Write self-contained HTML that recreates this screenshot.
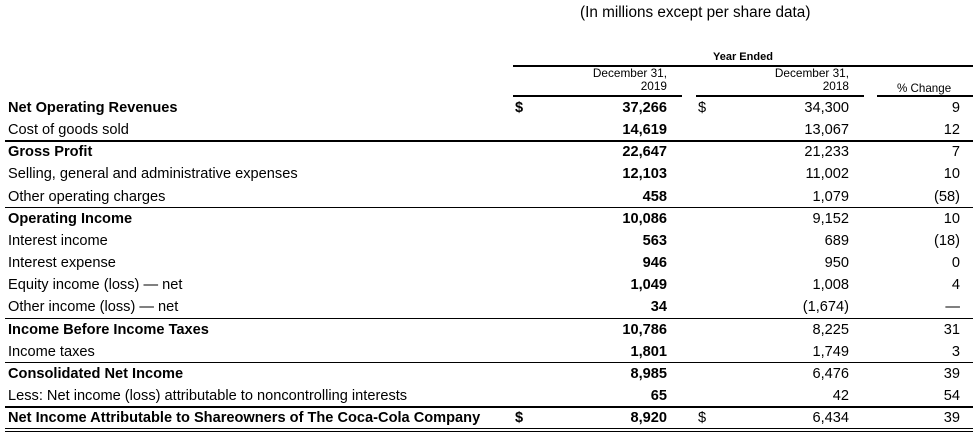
<!DOCTYPE html>
<html><head><meta charset="utf-8"><style>
body{margin:0;width:975px;height:434px;background:#fff;position:relative;overflow:hidden;font-family:"Liberation Sans",Arial,sans-serif;color:#000}
.t{position:absolute;white-space:nowrap;font-size:14.6px;line-height:16px}
.b{font-weight:bold}
.r{text-align:right}
.rule{position:absolute;height:1.5px;background:#000}
</style></head><body>
<div class="t" style="left:580px;top:5px;font-size:15.3px">(In millions except per share data)</div>
<div class="t b" style="left:713px;top:49px;font-size:11px">Year Ended</div>
<div class="rule" style="left:513px;top:65px;width:460px"></div>
<div class="t r" style="left:560px;top:67px;width:107px;font-size:11.8px;line-height:12.5px">December 31,<br>2019</div>
<div class="t r" style="left:740px;top:67px;width:109px;font-size:11.8px;line-height:12.5px">December 31,<br>2018</div>
<div class="t" style="left:897px;top:81px;font-size:11.6px">% Change</div>
<div class="rule" style="left:513px;top:95px;width:169px"></div>
<div class="rule" style="left:696px;top:95px;width:168px"></div>
<div class="rule" style="left:877px;top:95px;width:96px"></div>
<script>
const labels=["Net Operating Revenues","Cost of goods sold","Gross Profit","Selling, general and administrative expenses","Other operating charges","Operating Income","Interest income","Interest expense","Equity income (loss) — net","Other income (loss) — net","Income Before Income Taxes","Income taxes","Consolidated Net Income","Less: Net income (loss) attributable to noncontrolling interests","Net Income Attributable to Shareowners of The Coca-Cola Company"];
const v2019=["37,266","14,619","22,647","12,103","458","10,086","563","946","1,049","34","10,786","1,801","8,985","65","8,920"];
const v2018=["34,300","13,067","21,233","11,002","1,079","9,152","689","950","1,008","(1,674)","8,225","1,749","6,476","42","6,434"];
const pct=["9","12","7","10","(58)","10","(18)","0","4","—","31","3","39","54","39"];
const boldRows=[0,2,5,10,12,14];
const dollarRows=[0,14];
const ruleBefore=[2,5,10,12,14];
const host=document.body;
const top0=97,rh=22.15;
function add(cls,txt,style,name){const d=document.createElement('div');d.className=cls;d.textContent=txt;d.style.cssText=style;


host.appendChild(d);return d;}
labels.forEach((l,i)=>{
 const y=top0+i*rh;const ty=y+3;const bold=boldRows.includes(i)?' b':'';
 add('t'+bold,l,`left:8px;top:${ty}px`,'row-label');
 add('t b r',v2019[i],`left:560px;width:107px;top:${ty}px`,'value-2019');
 add('t r',v2018[i],`left:740px;width:109px;top:${ty}px`,'value-2018');
 add('t r',pct[i],`left:900px;width:60px;top:${ty}px`,'pct-change');
 if(dollarRows.includes(i)){add('t b','$',`left:515px;top:${ty}px`,'dollar-sign-2019');add('t','$',`left:698px;top:${ty}px`,'dollar-sign-2018');}
 if(ruleBefore.includes(i)){add('rule','',`left:5px;width:968px;top:${y-1}px`,'section-rule');}
});
add('rule','',`left:5px;width:968px;top:${top0+15*rh-1}px;height:1px`,'bottom-rule');
add('rule','',`left:5px;width:968px;top:${top0+15*rh+1.5}px;height:1px`,'bottom-rule-2');
</script>
</body></html>
